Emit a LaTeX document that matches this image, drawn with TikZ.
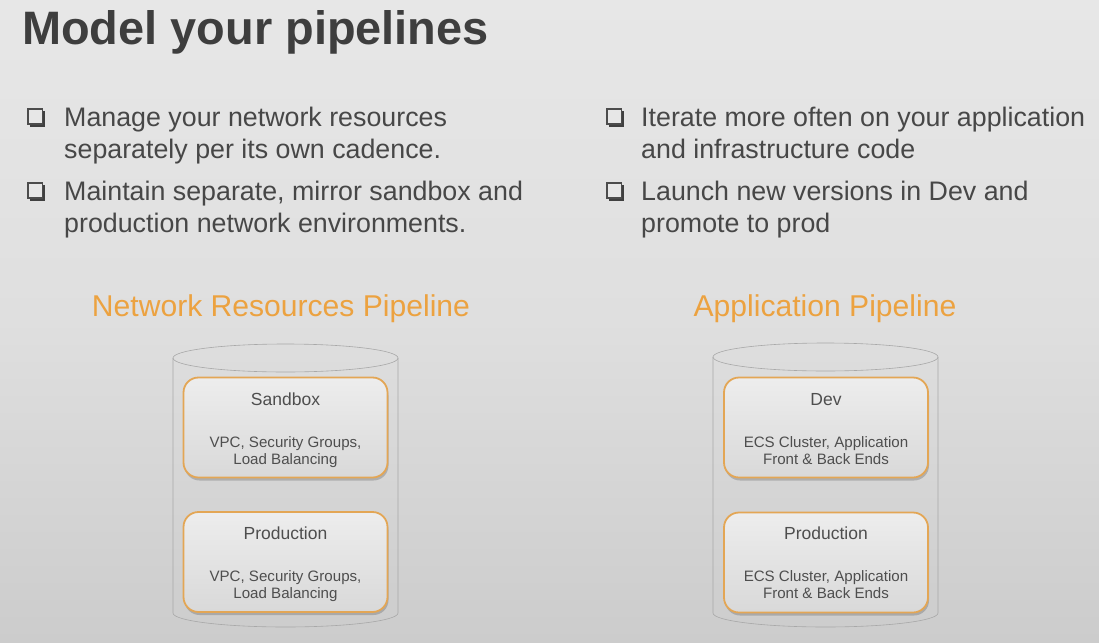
\documentclass[tikz,border=0pt]{standalone}
\usepackage{fontspec}
\setmainfont{Liberation Sans}
\usetikzlibrary{shadows}
\definecolor{bgtop}{HTML}{E7E7E7}
\definecolor{bgbot}{HTML}{CCCCCC}
\definecolor{titlegray}{HTML}{3E3E3E}
\definecolor{textgray}{HTML}{474747}
\definecolor{boxtext}{HTML}{4E4E4E}
\definecolor{pipeorange}{HTML}{ECA240}
\definecolor{boxorange}{HTML}{E3A655}
\definecolor{cylgray}{HTML}{A8A8A8}
\tikzset{
  bullettext/.style={anchor=base west, inner sep=0pt, text=textgray,
    font=\fontsize{26.8}{32}\selectfont, align=left},
  pipehead/.style={anchor=base, inner sep=0pt, text=pipeorange,
    font=\fontsize{30.1}{36}\selectfont},
  envbox/.style={draw=boxorange, line width=1.8pt, rounded corners=15pt,
    top color=black!7, bottom color=black!15,
    drop shadow={shadow xshift=1pt, shadow yshift=-3pt, opacity=0.35, fill=black!60},
    minimum width=204pt, minimum height=100pt, inner sep=0pt},
  envtitle/.style={anchor=base, inner sep=0pt, text=boxtext,
    font=\fontsize{17.5}{20}\selectfont},
  envdesc/.style={anchor=base, inner sep=0pt, text=boxtext, align=center,
    font=\fontsize{15.1}{16.5}\selectfont},
  cyl/.style={draw=cylgray, line width=0.6pt},
}
% checkbox bullet with a shadowed lower-right edge
\newcommand{\checkbox}[2]{%
  \fill[black!75] (#1+2,#2+2) rectangle (#1+17,#2+18);
  \filldraw[fill=bgtop, draw=black!70, line width=1.3pt] (#1,#2) rectangle (#1+14.5,#2+15);
}
% open cylinder: x-left, x-right, y-top-centre, y-bottom-centre, radius y
\newcommand{\pipecyl}[5]{%
  \draw[cyl] ({(#1+#2)/2},#3) ellipse ({(#2-#1)/2} and #5);
  \draw[cyl] (#1,#3) -- (#1,#4) arc[start angle=180, end angle=360, x radius={(#2-#1)/2}, y radius=-#5] -- (#2,#3);
}
\begin{document}
\begin{tikzpicture}[x=1pt, y=-1pt]
  \useasboundingbox (0,0) rectangle (1099,642);
  \shade[top color=bgtop, bottom color=bgbot, middle color=bgtop!70!bgbot] (0,0) rectangle (1099,642);

  % title
  \node[anchor=base west, inner sep=0pt, text=titlegray,
        font=\fontsize{46.9}{50}\selectfont\bfseries] (title) at (22,45) {Model your pipelines};

  % left bullets
  \checkbox{28}{109}
  \node[bullettext] (b1a) at (64,126) {Manage your network resources};
  \node[bullettext] (b1b) at (64,158) {separately per its own cadence.};
  \checkbox{28}{183}
  \node[bullettext] (b2a) at (64,200) {Maintain separate, mirror sandbox and};
  \node[bullettext] (b2b) at (64,232) {production network environments.};

  % right bullets
  \checkbox{607}{109}
  \node[bullettext] (b3a) at (641,126) {Iterate more often on your application};
  \node[bullettext] (b3b) at (641,158) {and infrastructure code};
  \checkbox{607}{183}
  \node[bullettext] (b4a) at (641,200) {Launch new versions in Dev and};
  \node[bullettext] (b4b) at (641,232) {promote to prod};

  % pipeline headings
  \node[pipehead] (nethead) at (281,316) {Network Resources Pipeline};
  \node[pipehead] (apphead) at (825,316) {Application Pipeline};

  % cylinders
  \pipecyl{173}{398}{358}{613}{14}
  \pipecyl{713}{938}{357}{613}{14}

  % network pipeline environments
  \node[envbox] (netsand) at (285.5,427.5) {};
  \node[envtitle] at (285.5,405) {Sandbox};
  \node[envdesc] at (285.5,464) {VPC, Security Groups,\\Load Balancing};
  \node[envbox] (netprod) at (285.5,562) {};
  \node[envtitle] at (285.5,539) {Production};
  \node[envdesc] at (285.5,598) {VPC, Security Groups,\\Load Balancing};

  % application pipeline environments
  \node[envbox] (appdev) at (826,427.5) {};
  \node[envtitle] at (826,405) {Dev};
  \node[envdesc] at (826,464) {ECS Cluster, Application\\Front \& Back Ends};
  \node[envbox] (appprod) at (826,562.5) {};
  \node[envtitle] at (826,539) {Production};
  \node[envdesc] at (826,598) {ECS Cluster, Application\\Front \& Back Ends};
\end{tikzpicture}
\end{document}
